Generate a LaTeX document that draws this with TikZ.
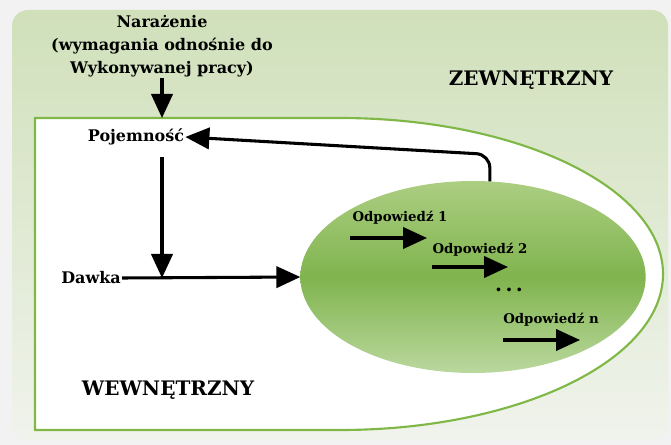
\documentclass[tikz,border=0pt]{standalone}
\usepackage{fontspec}
\setmainfont{DejaVu Serif}
\usetikzlibrary{arrows.meta,shapes.geometric}
\definecolor{pagegray}{RGB}{241,242,241}
\definecolor{paneltop}{RGB}{208,224,186}
\definecolor{panelbot}{RGB}{240,243,236}
\definecolor{bordergreen}{RGB}{128,184,72}
\definecolor{elltop}{RGB}{172,206,130}
\definecolor{ellmid}{RGB}{128,180,78}
\definecolor{ellbot}{RGB}{186,216,158}
\begin{document}
\begin{tikzpicture}[x=0.75pt,y=0.75pt,yscale=-1,xscale=1,
    lbl/.style={font=\bfseries\fontsize{12}{17.2}\selectfont,inner sep=0.75pt,align=center},
    odptxt/.style={font=\bfseries\fontsize{10}{12}\selectfont,inner sep=0.75pt},
    bigtxt/.style={font=\bfseries\fontsize{15}{17}\selectfont,inner sep=0.75pt},
    bigarrow/.style={line width=2.3pt,-{Triangle[length=18pt,width=16pt]}}]
    % page and panel
    \fill[pagegray] (0,0) rectangle (671,445);
    \shade[rounded corners=12pt,top color=paneltop,bottom color=panelbot] (12,10) rectangle (668,440);
    % inner area
    \coordinate (wtl) at (35,118);
    \draw[fill=white,draw=bordergreen,line width=1.6pt] (340,118) -- (wtl) -- (35,430) -- (340,430)
        arc[start angle=90,end angle=-90,x radius=323,y radius=156] -- cycle;
    % response ellipse
    \node[ellipse,minimum width=259pt,minimum height=144pt,inner sep=0pt,outer sep=0pt,
        top color=elltop,bottom color=ellbot,middle color=ellmid] (odp) at (473,277) {};
    % labels
    \node[lbl] (naraz) at (162,46) {Narażenie\\(wymagania odnośnie do\\Wykonywanej pracy)};
    \node[lbl] (poj) at (136,137) {Pojemność};
    \node[lbl] (dawka) at (91,278) {Dawka};
    \node[bigtxt] (zew) at (531,80) {ZEWNĘTRZNY};
    \node[bigtxt] (wew) at (168,390) {WEWNĘTRZNY};
    \node[odptxt] (o1) at (400,218) {Odpowiedź 1};
    \node[odptxt] (o2) at (480,250) {Odpowiedź 2};
    \node[bigtxt] (dots) at (509,290) {.\,.\,.};
    \node[odptxt] (on) at (551,320) {Odpowiedź n};
    % connectors
    \coordinate (meet) at (162,278);
    \draw[bigarrow] (naraz.south) -- (naraz.south |- wtl);
    \draw[bigarrow,rounded corners=10pt] (odp.80) -- ++(0,-27) -- (poj.east);
    \draw[bigarrow,shorten <=8pt] (poj.south -| meet) -- (meet);
    \draw[bigarrow] (dawka.east) -- (odp.west);
    % response arrows
    \coordinate (r1a) at (350,238);
    \coordinate (r1b) at (427,238);
    \coordinate (r2a) at (432,267);
    \coordinate (r2b) at (508,267);
    \coordinate (rna) at (503,340);
    \coordinate (rnb) at (580,340);
    \draw[bigarrow] (r1a) -- (r1b);
    \draw[bigarrow] (r2a) -- (r2b);
    \draw[bigarrow] (rna) -- (rnb);
\end{tikzpicture}
\end{document}
